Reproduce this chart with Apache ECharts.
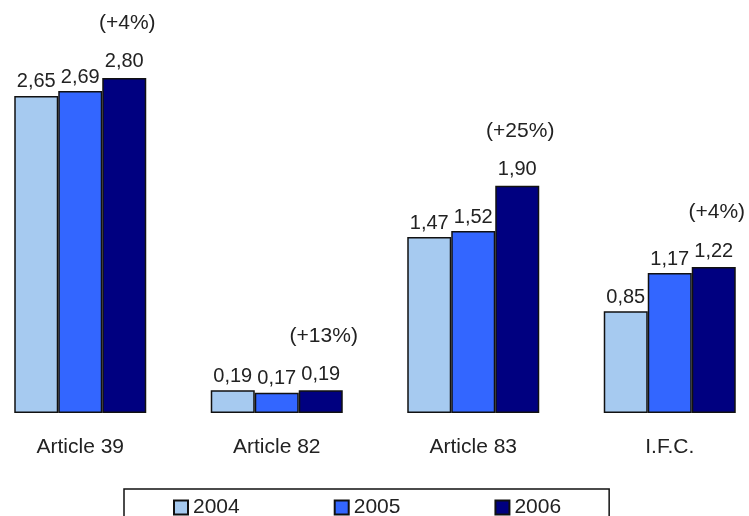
<!DOCTYPE html>
<html>
<head>
<meta charset="utf-8">
<script src="https://cdn.jsdelivr.net/npm/echarts@6/dist/echarts.min.js"></script>
<style>
  html, body { margin: 0; padding: 0; background: #fff; overflow: hidden; }
  body { width: 749px; height: 516px; position: relative; }
  /* The plot spans slightly wider than the page so the outer groups sit near the edges */
  #chart { position: absolute; left: -18px; top: 0; width: 786px; height: 516px; }
</style>
</head>
<body>
<div id="chart"></div>
<script>
// Categories and yearly values
const categories = ['Article 39', 'Article 82', 'Article 83', 'I.F.C.'];
const years = ['2004', '2005', '2006'];
const values2004 = [2.65, 0.19, 1.47, 0.85];
const values2005 = [2.69, 0.17, 1.52, 1.17];
const values2006 = [2.80, 0.19, 1.90, 1.22];
// Growth 2005 -> 2006 shown above each group
const growth = ['(+4%)', '(+13%)', '(+25%)', '(+4%)'];

const colors = ['#A6CAF0', '#3366FF', '#000080'];
const FONT = '"Liberation Sans", Arial, sans-serif';
const TEXT = '#222';

const fmt = v => v.toFixed(2).replace('.', ',');

function makeSeries(name, data, color, isLast) {
  return {
    name: name,
    type: 'bar',
    data: data,
    barWidth: 44,
    barGap: '0%',
    itemStyle: { color: color, borderColor: '#111', borderWidth: 1.5 },
    label: isLast ? {
      show: true,
      position: 'top',
      distance: 5,
      fontFamily: FONT,
      color: TEXT,
      formatter: p => '{p|' + growth[p.dataIndex] + '}\n{v|' + fmt(p.value) + '}',
      rich: {
        p: { fontSize: 21, fontFamily: FONT, color: TEXT, lineHeight: 38, verticalAlign: 'top', padding: [0, 0, 0, 6] },
        v: { fontSize: 20, fontFamily: FONT, color: TEXT, lineHeight: 22 }
      }
    } : {
      show: true,
      position: 'top',
      distance: 4,
      fontSize: 20,
      fontFamily: FONT,
      color: TEXT,
      formatter: p => fmt(p.value)
    },
    emphasis: { disabled: true },
    animation: false
  };
}

const chart = echarts.init(document.getElementById('chart'), null, { renderer: 'canvas' });
chart.setOption({
  animation: false,
  grid: { left: 0, right: 0, top: 54, height: 359 },
  legend: {
    data: years,
    left: 142,
    top: 489,
    orient: 'horizontal',
    icon: 'rect',
    itemWidth: 14,
    itemHeight: 14,
    itemGap: 94,
    padding: [8, 48, 30, 49],
    borderColor: '#111',
    borderWidth: 1.5,
    textStyle: { fontSize: 21, fontFamily: FONT, color: TEXT }
  },
  xAxis: {
    type: 'category',
    data: categories,
    axisLine: { show: false },
    axisTick: { show: false },
    axisLabel: { fontSize: 21, fontFamily: FONT, color: TEXT, margin: 24 }
  },
  yAxis: {
    type: 'value',
    min: 0,
    max: 3,
    show: false,
    splitLine: { show: false }
  },
  series: [
    makeSeries(years[0], values2004, colors[0], false),
    makeSeries(years[1], values2005, colors[1], false),
    makeSeries(years[2], values2006, colors[2], true)
  ]
});
</script>
</body>
</html>
